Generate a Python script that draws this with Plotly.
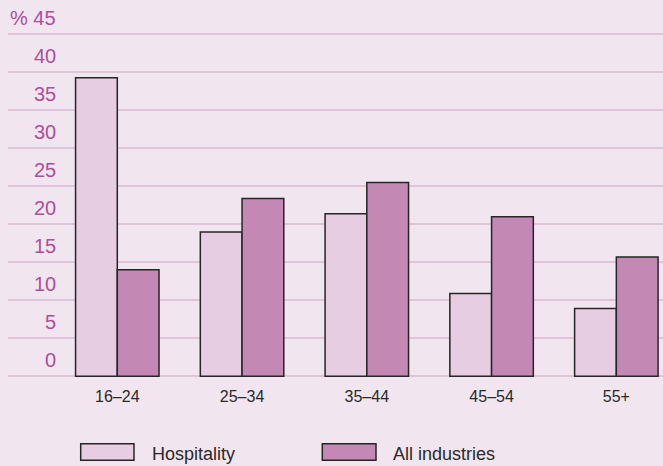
import plotly.graph_objects as go

categories = ["16–24", "25–34", "35–44", "45–54", "55+"]
hospitality = [39.3, 19.0, 21.4, 10.9, 8.9]
all_industries = [14.0, 23.4, 25.5, 21.0, 15.7]
y_ticks = [0, 5, 10, 15, 20, 25, 30, 35, 40, 45]
y_tick_labels = ["0", "5", "10", "15", "20", "25", "30", "35", "40", "% 45"]
series_names = ["Hospitality", "All industries"]

BG = "#f1e5ef"
C_HOSP = "#e7cde1"
C_ALL = "#c388b3"
GRID = "#e2c4da"
LABEL = "#ad4f9b"
OUTLINE = "#262626"

W, H = 663, 466
ML, MR = 8, 0
MT, MB = 23.3, 85.5
plot_w = W - ML - MR

fig = go.Figure()
fig.add_trace(go.Bar(x=categories, y=hospitality, name=series_names[0],
                     marker=dict(color=C_HOSP, line=dict(color=OUTLINE, width=1.5))))
fig.add_trace(go.Bar(x=categories, y=all_industries, name=series_names[1],
                     marker=dict(color=C_ALL, line=dict(color=OUTLINE, width=1.5))))

annotations = []
label_x = (57.5 - ML) / plot_w
for v, t in zip(y_ticks, y_tick_labels):
    annotations.append(dict(x=label_x, xref="paper", y=v, yref="y", text=t,
                            showarrow=False, xanchor="right", yanchor="middle",
                            yshift=16,
                            font=dict(family="Liberation Sans, Arial, sans-serif",
                                      size=20, color=LABEL)))

# legend (custom wide swatches)
shapes = []
leg_items = [(80.7, 134, C_HOSP, 149.5, series_names[0]),
             (322.3, 376, C_ALL, 390.5, series_names[1])]
for x0, x1, col, tx, name in leg_items:
    shapes.append(dict(type="rect", xref="paper", yref="paper",
                       x0=(x0 - ML) / plot_w, x1=(x1 - ML) / plot_w,
                       y0=-(444.3 - (H - MB)) / (H - MT - MB),
                       y1=-(460.7 - (H - MB)) / (H - MT - MB),
                       fillcolor=col, line=dict(color=OUTLINE, width=1.5)))
    annotations.append(dict(x=(tx - ML) / plot_w, xref="paper",
                            y=-(454.5 - (H - MB)) / (H - MT - MB), yref="paper",
                            text=name, showarrow=False, xanchor="left", yanchor="middle",
                            font=dict(family="Liberation Sans, Arial, sans-serif",
                                      size=18, color="#2a2a2a")))

fig.update_layout(
    width=W, height=H,
    margin=dict(l=ML, r=MR, t=MT, b=MB, pad=0),
    paper_bgcolor=BG, plot_bgcolor=BG,
    barmode="group", bargap=0.331, bargroupgap=0,
    showlegend=False,
    shapes=shapes, annotations=annotations,
    xaxis=dict(range=[-0.876, 4.374], showgrid=False, zeroline=False,
               showline=False, ticks="", ticklabelstandoff=5,
               tickfont=dict(family="Liberation Sans, Arial, sans-serif",
                             size=16, color="#2a2a2a")),
    yaxis=dict(range=[-0.5, 46.5], tickvals=y_ticks, showticklabels=False,
               showgrid=True, gridcolor=GRID, gridwidth=2,
               zeroline=True, zerolinecolor=GRID, zerolinewidth=2,
               showline=False, ticks=""),
)

fig.write_html("out.html")
